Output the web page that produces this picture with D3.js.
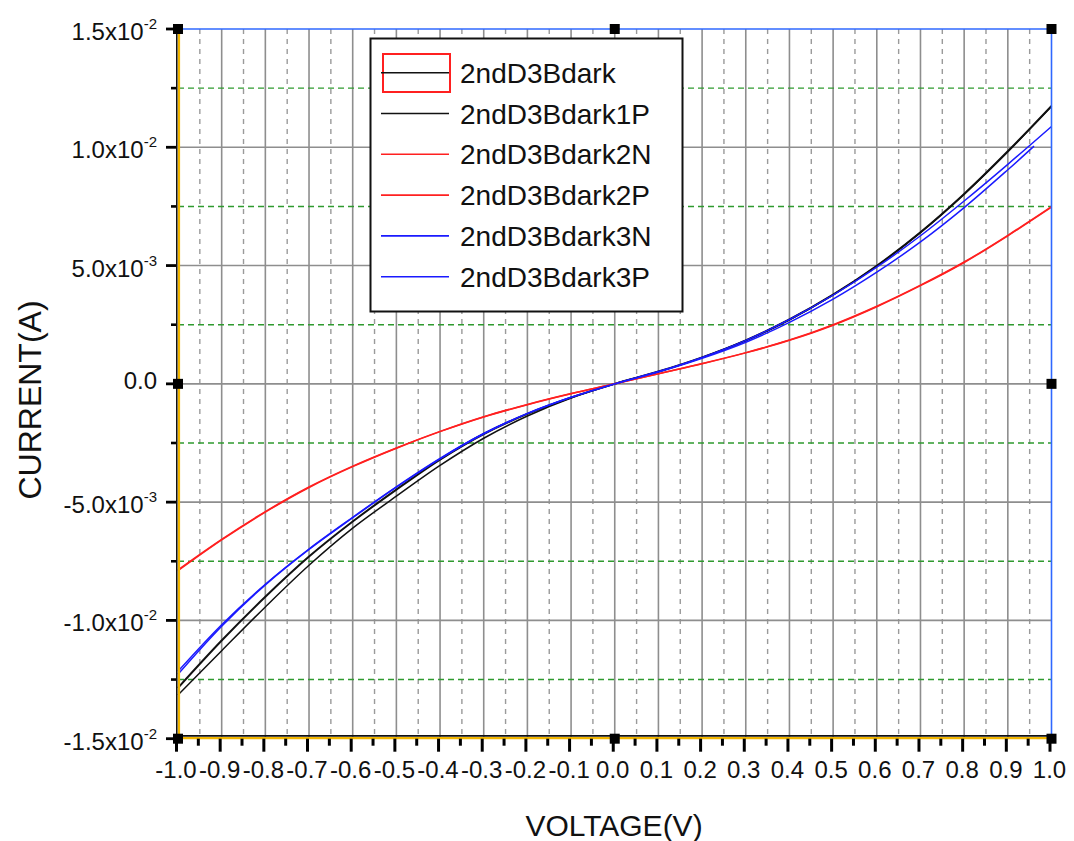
<!DOCTYPE html>
<html>
<head>
<meta charset="utf-8">
<script src="https://cdn.jsdelivr.net/npm/d3@7"></script>
<style>
  html, body { margin: 0; padding: 0; background: #fff; }
  svg { display: block; font-family: "Liberation Sans", Arial, sans-serif; }
</style>
</head>
<body>
<svg id="chart" width="1074" height="841"></svg>
<script>
// Sweep voltages (V)
const voltage = [-1.0, -0.9, -0.8, -0.7, -0.6, -0.5, -0.4, -0.3, -0.2, -0.1, 0.0,
                 0.1, 0.2, 0.3, 0.4, 0.5, 0.6, 0.7, 0.8, 0.9, 1.0];
const voltage3P = [-1.0, -0.9, -0.8, -0.7, -0.6, -0.5, -0.4, -0.3, -0.2, -0.1, 0.0,
                   0.1, 0.2, 0.3, 0.4, 0.5, 0.6, 0.7, 0.8, 0.9, 0.96];

// Measured current (A)
const dark   = [-12.85e-3, -10.85e-3, -9.00e-3, -7.30e-3, -5.82e-3, -4.47e-3, -3.20e-3, -2.12e-3, -1.27e-3, -0.58e-3, 0,
                0.52e-3, 1.12e-3, 1.84e-3, 2.72e-3, 3.77e-3, 4.99e-3, 6.41e-3, 8.03e-3, 9.83e-3, 11.75e-3];
const dark1P = [-13.15e-3, -11.28e-3, -9.43e-3, -7.67e-3, -6.10e-3, -4.75e-3, -3.45e-3, -2.30e-3, -1.36e-3, -0.60e-3, 0,
                0.51e-3, 1.11e-3, 1.83e-3, 2.71e-3, 3.76e-3, 4.98e-3, 6.39e-3, 8.01e-3, 9.81e-3, 11.72e-3];
const dark2N = [-7.90e-3, -6.60e-3, -5.42e-3, -4.38e-3, -3.50e-3, -2.72e-3, -2.02e-3, -1.40e-3, -0.88e-3, -0.42e-3, 0,
                0.43e-3, 0.85e-3, 1.31e-3, 1.84e-3, 2.48e-3, 3.26e-3, 4.15e-3, 5.13e-3, 6.26e-3, 7.47e-3];
const dark2P = [-7.86e-3, -6.57e-3, -5.40e-3, -4.36e-3, -3.48e-3, -2.71e-3, -2.01e-3, -1.39e-3, -0.87e-3, -0.41e-3, 0,
                0.43e-3, 0.86e-3, 1.32e-3, 1.85e-3, 2.50e-3, 3.28e-3, 4.17e-3, 5.15e-3, 6.28e-3, 7.49e-3];
const dark3N = [-12.15e-3, -10.18e-3, -8.47e-3, -6.98e-3, -5.64e-3, -4.35e-3, -3.15e-3, -2.10e-3, -1.25e-3, -0.57e-3, 0,
                0.52e-3, 1.12e-3, 1.84e-3, 2.72e-3, 3.75e-3, 4.93e-3, 6.26e-3, 7.73e-3, 9.28e-3, 10.88e-3];
const dark3P = [-12.28e-3, -10.25e-3, -8.50e-3, -7.00e-3, -5.66e-3, -4.37e-3, -3.17e-3, -2.11e-3, -1.26e-3, -0.57e-3, 0,
                0.50e-3, 1.08e-3, 1.76e-3, 2.60e-3, 3.58e-3, 4.72e-3, 6.00e-3, 7.45e-3, 9.05e-3, 10.05e-3];

const seriesNames = ["2ndD3Bdark", "2ndD3Bdark1P", "2ndD3Bdark2N", "2ndD3Bdark2P", "2ndD3Bdark3N", "2ndD3Bdark3P"];
const seriesColors = ["#111111", "#111111", "#ff2020", "#ff2020", "#1a1aff", "#1a1aff"];

// Axis ticks and labels
const xTicks = [-1.0, -0.9, -0.8, -0.7, -0.6, -0.5, -0.4, -0.3, -0.2, -0.1, 0.0,
                0.1, 0.2, 0.3, 0.4, 0.5, 0.6, 0.7, 0.8, 0.9, 1.0];
const xTickLabels = ["-1.0", "-0.9", "-0.8", "-0.7", "-0.6", "-0.5", "-0.4", "-0.3", "-0.2", "-0.1", "0.0",
                     "0.1", "0.2", "0.3", "0.4", "0.5", "0.6", "0.7", "0.8", "0.9", "1.0"];
const yTicks = [-0.015, -0.01, -0.005, 0, 0.005, 0.01, 0.015];
const yTickBase = ["-1.5x10", "-1.0x10", "-5.0x10", "0.0", "5.0x10", "1.0x10", "1.5x10"];
const yTickExp  = ["-2", "-2", "-3", "", "-3", "-2", "-2"];
const yMinorTicks = [-0.0125, -0.0075, -0.0025, 0.0025, 0.0075, 0.0125];

const svg = d3.select("#chart");
svg.append("rect").attr("width", 1074).attr("height", 841).attr("fill", "#fff");

const x = d3.scaleLinear().domain([-1, 1]).range([178, 1051.5]);
const y = d3.scaleLinear().domain([-0.015, 0.015]).range([738.7, 29]);
const [x0, x1] = x.range();
const [y0, y1] = y.range();

// Grid: solid gray at major, dashed gray/green at minor
const grid = svg.append("g");
const xMinor = d3.range(-0.95, 1.0, 0.1);
grid.selectAll(".vminor").data(xMinor).join("line")
  .attr("x1", d => x(d)).attr("x2", d => x(d)).attr("y1", y1).attr("y2", y0)
  .attr("stroke", "#9a9a9a").attr("stroke-width", 1.4).attr("stroke-dasharray", "5,5");
grid.selectAll(".vmajor").data(xTicks.slice(1, -1)).join("line")
  .attr("x1", d => x(d)).attr("x2", d => x(d)).attr("y1", y1).attr("y2", y0)
  .attr("stroke", "#8e8e8e").attr("stroke-width", 1.6);
grid.selectAll(".hminor").data(yMinorTicks).join("line")
  .attr("x1", x0).attr("x2", x1).attr("y1", d => y(d)).attr("y2", d => y(d))
  .attr("stroke", "#2f9a2f").attr("stroke-width", 1.4).attr("stroke-dasharray", "6,4");
grid.selectAll(".hmajor").data(yTicks.slice(1, -1)).join("line")
  .attr("x1", x0).attr("x2", x1).attr("y1", d => y(d)).attr("y2", d => y(d))
  .attr("stroke", "#8e8e8e").attr("stroke-width", 1.6);

// Curves
const line = d3.line().x(d => x(d[0])).y(d => y(d[1])).curve(d3.curveCatmullRom.alpha(0.5));
const seriesData = [
  d3.zip(voltage, dark), d3.zip(voltage, dark1P), d3.zip(voltage, dark2N),
  d3.zip(voltage, dark2P), d3.zip(voltage, dark3N), d3.zip(voltage3P, dark3P)
];
svg.append("g").selectAll("path").data(seriesData).join("path")
  .attr("d", line).attr("fill", "none")
  .attr("stroke", (d, i) => seriesColors[i])
  .attr("stroke-width", (d, i) => i === 0 ? 2 : 1.5);

// Frame: blue top/right, black+yellow left/bottom
svg.append("line").attr("x1", x0).attr("x2", x1).attr("y1", y1).attr("y2", y1)
  .attr("stroke", "#2f68ff").attr("stroke-width", 1.6);
svg.append("line").attr("x1", x1).attr("x2", x1).attr("y1", y1).attr("y2", y0)
  .attr("stroke", "#2f68ff").attr("stroke-width", 1.6);
svg.append("line").attr("x1", x0 - 1.2).attr("x2", x0 - 1.2).attr("y1", y1).attr("y2", y0)
  .attr("stroke", "#111").attr("stroke-width", 1.6);
svg.append("line").attr("x1", x0 + 1).attr("x2", x0 + 1).attr("y1", y1).attr("y2", y0)
  .attr("stroke", "#f2b600").attr("stroke-width", 2.2);
svg.append("line").attr("x1", x0).attr("x2", x1).attr("y1", y0 - 2.8).attr("y2", y0 - 2.8)
  .attr("stroke", "#111").attr("stroke-width", 1.6);
svg.append("line").attr("x1", x0).attr("x2", x1).attr("y1", y0 - 0.6).attr("y2", y0 - 0.6)
  .attr("stroke", "#f2b600").attr("stroke-width", 2.4);

// Left axis ticks and labels
const yAxis = svg.append("g");
yAxis.selectAll(".ymaj").data(yTicks).join("line")
  .attr("x1", x0 - 12).attr("x2", x0 - 2).attr("y1", d => y(d)).attr("y2", d => y(d))
  .attr("stroke", "#000").attr("stroke-width", 2.8);
yAxis.selectAll(".ymin").data(yMinorTicks).join("line")
  .attr("x1", x0 - 7).attr("x2", x0 - 2).attr("y1", d => y(d)).attr("y2", d => y(d))
  .attr("stroke", "#000").attr("stroke-width", 2.6);
const yLab = yAxis.selectAll(".ylab").data(yTicks).join("text")
  .attr("x", 157)
  .attr("y", (d, i) => y(d) + (yTickExp[i] ? 11 : 5))
  .attr("text-anchor", "end").attr("font-size", 24).attr("fill", "#111");
yLab.append("tspan").text((d, i) => yTickBase[i]);
yLab.append("tspan").attr("font-size", 15).attr("dy", -11).text((d, i) => yTickExp[i]);

// Bottom axis ticks and labels
const xAxis = svg.append("g");
xAxis.selectAll(".xmaj").data(xTicks).join("line")
  .attr("x1", d => x(d) - 1.5).attr("x2", d => x(d) - 1.5).attr("y1", y0).attr("y2", y0 + 13)
  .attr("stroke", "#000").attr("stroke-width", 3);
xAxis.selectAll(".xmin").data(xMinor).join("line")
  .attr("x1", d => x(d) - 1.5).attr("x2", d => x(d) - 1.5).attr("y1", y0).attr("y2", y0 + 7)
  .attr("stroke", "#000").attr("stroke-width", 3);
xAxis.selectAll(".xlab").data(xTicks).join("text")
  .attr("x", d => x(d) - 2).attr("y", 778)
  .attr("text-anchor", "middle").attr("font-size", 24).attr("fill", "#111")
  .text((d, i) => xTickLabels[i]);

// Axis titles
svg.append("text").attr("x", 614).attr("y", 836).attr("text-anchor", "middle")
  .attr("font-size", 30).attr("fill", "#111").text("VOLTAGE(V)");
svg.append("text").attr("transform", "translate(41,400) rotate(-90)").attr("text-anchor", "middle")
  .attr("font-size", 32).attr("fill", "#111").text("CURRENT(A)");

// Selection handles around the layer
const handles = [[x0, y1], [(x0 + x1) / 2, y1], [x1, y1], [x0, (y0 + y1) / 2],
                 [x1, (y0 + y1) / 2], [x0, y0], [(x0 + x1) / 2, y0], [x1, y0]];
svg.append("g").selectAll("rect").data(handles).join("rect")
  .attr("x", d => d[0] - 5).attr("y", d => d[1] - 5).attr("width", 10).attr("height", 10)
  .attr("fill", "#000");

// Legend
const lg = svg.append("g");
lg.append("rect").attr("x", 370.5).attr("y", 38.5).attr("width", 312).attr("height", 273)
  .attr("fill", "#fff").attr("stroke", "#111").attr("stroke-width", 2);
const rowY = i => 72.7 + i * 40.8;
lg.append("rect").attr("x", 383).attr("y", 54).attr("width", 67).attr("height", 38)
  .attr("fill", "none").attr("stroke", "#ff2020").attr("stroke-width", 2);
lg.selectAll(".lline").data(seriesNames).join("line")
  .attr("x1", 381).attr("x2", 449).attr("y1", (d, i) => rowY(i)).attr("y2", (d, i) => rowY(i))
  .attr("stroke", (d, i) => seriesColors[i]).attr("stroke-width", 1.6);
lg.selectAll(".ltext").data(seriesNames).join("text")
  .attr("x", 460).attr("y", (d, i) => rowY(i) + 10)
  .attr("font-size", 28).attr("fill", "#111").text(d => d);
</script>
</body>
</html>
